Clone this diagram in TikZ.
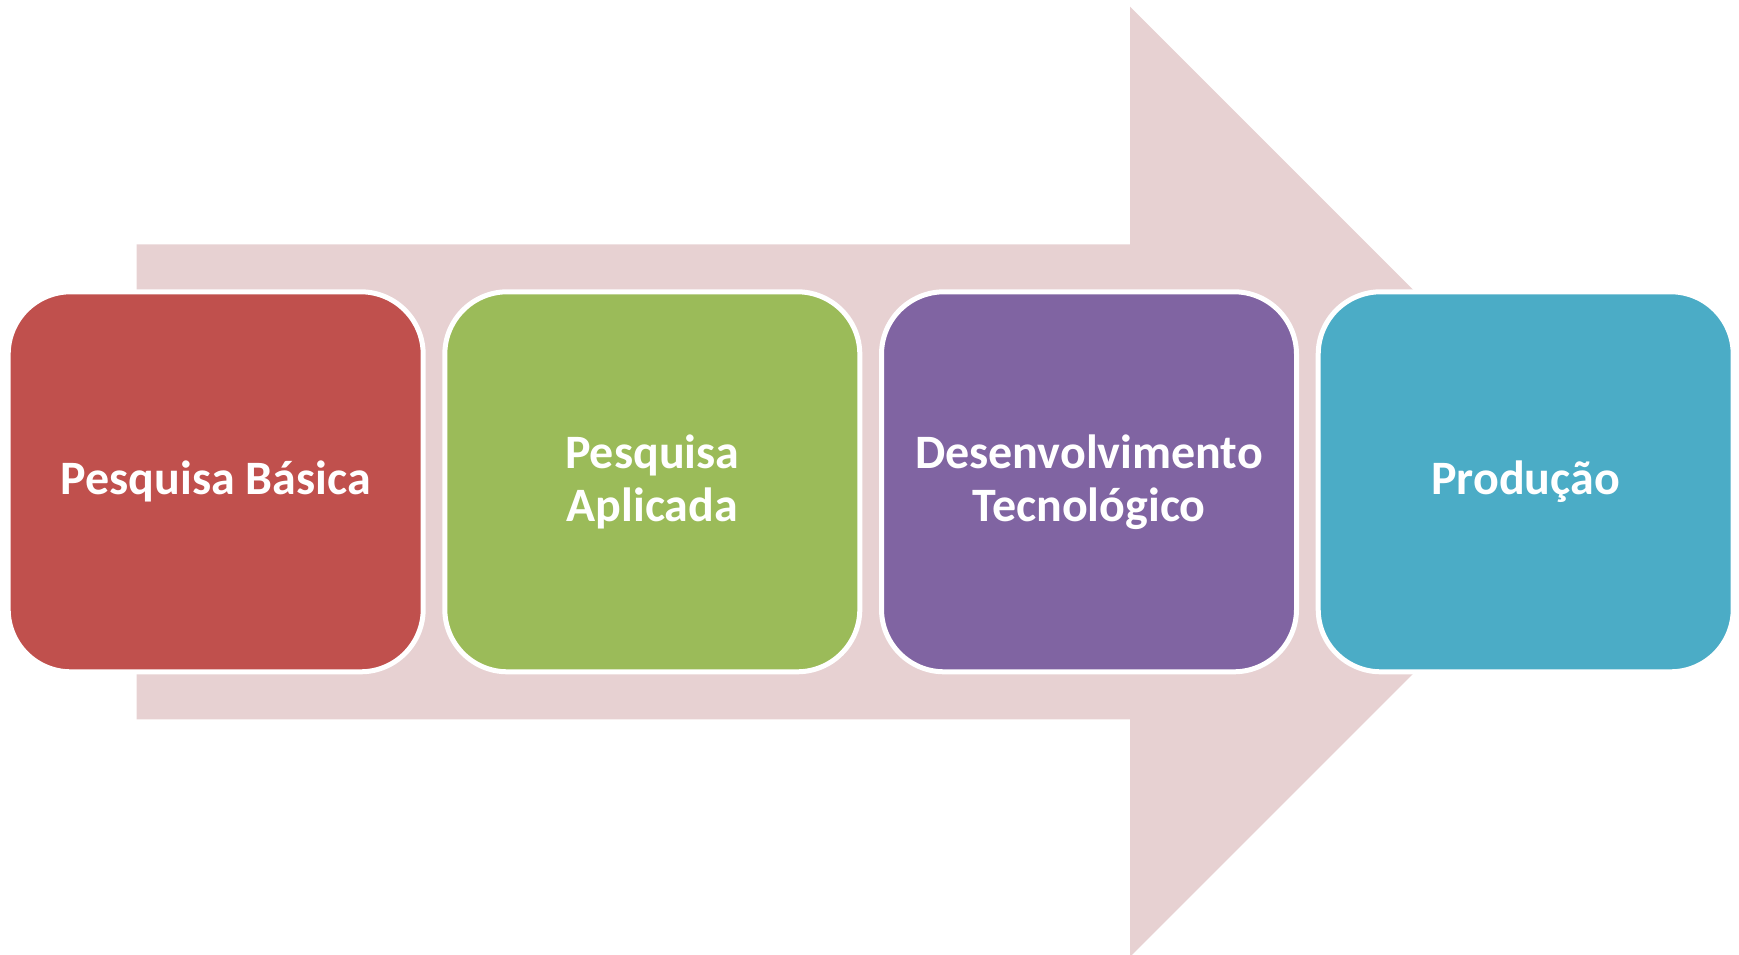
\documentclass[tikz,border=0pt]{standalone}
\usepackage{fontspec}
\setmainfont{Carlito}
\definecolor{arrowpink}{HTML}{E7D1D2}
\definecolor{cred}{HTML}{C0504D}
\definecolor{cgreen}{HTML}{9BBB59}
\definecolor{cpurple}{HTML}{8064A2}
\definecolor{cblue}{HTML}{4BACC6}
\tikzset{
  stagebox/.style={draw=white, line width=5pt, rounded corners=62.5pt,
    minimum width=415pt, minimum height=380pt, inner sep=0pt,
    align=center, text=white,
    font=\fontsize{48pt}{53pt}\selectfont\bfseries}
}
\begin{document}
\begin{tikzpicture}[x=1pt,y=1pt]
\useasboundingbox (0,0) rectangle (1739,955);
\fill[arrowpink] (136.7,710.7) -- (1130,710.7) -- (1130,948.3) -- (1605,473.2)
  -- (1130,-1.9) -- (1130,235.7) -- (136.7,235.7) -- cycle;
\node[stagebox, fill=cred] (b1) at (215.7,473.2) {Pesquisa Básica};
\node[stagebox, fill=cgreen] (b2) at (652.3,473.2) {Pesquisa\\Aplicada};
\node[stagebox, fill=cpurple] (b3) at (1089,473.2) {Desenvolvimento\\Tecnológico};
\node[stagebox, fill=cblue] (b4) at (1525.7,473.2) {Produção};
\end{tikzpicture}
\end{document}
